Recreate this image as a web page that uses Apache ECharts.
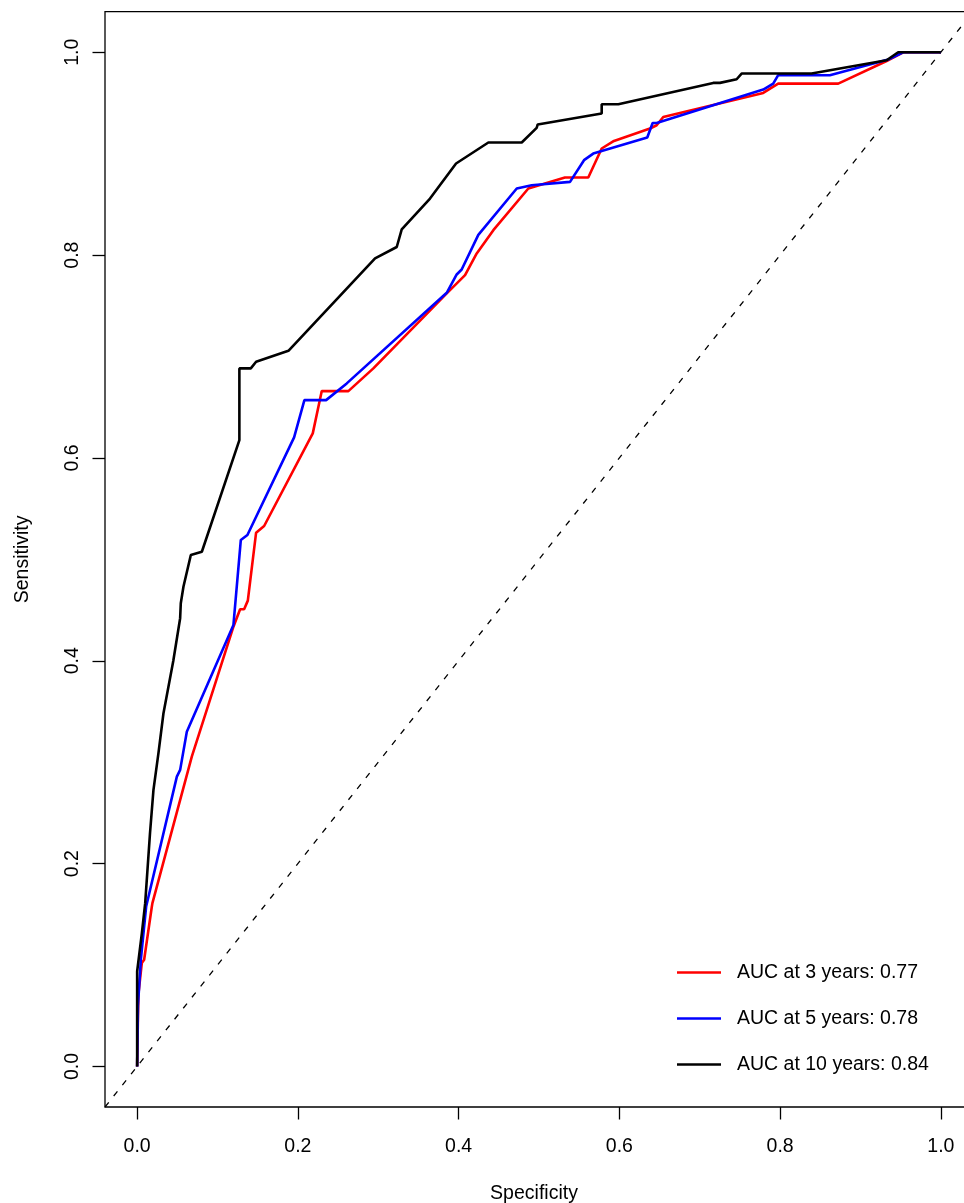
<!DOCTYPE html>
<html>
<head>
<meta charset="utf-8">
<script src="https://cdn.jsdelivr.net/npm/echarts@6/dist/echarts.min.js"></script>
<style>
html,body{margin:0;padding:0;background:#fff;overflow:hidden;width:964px;height:1203px;}
#chart{width:1000px;height:1203px;}
</style>
</head>
<body>
<div id="chart"></div>
<script>
// ---- data ----
const tickValues = [0, 0.2, 0.4, 0.6, 0.8, 1.0];

const names = ['AUC at 3 years: 0.77', 'AUC at 5 years: 0.78', 'AUC at 10 years: 0.84'];

const fpr3 = [0, 0.001, 0.0017, 0.0058, 0.0087, 0.0183, 0.019, 0.068, 0.1198, 0.1281, 0.1331, 0.1377, 0.148, 0.158, 0.2185, 0.2297, 0.2628, 0.2939, 0.3852, 0.408, 0.4225, 0.4432, 0.4867, 0.5323, 0.5613, 0.578, 0.5933, 0.6381, 0.6464, 0.6546, 0.779, 0.7976, 0.8723, 0.9325, 0.9531, 1];
const tpr3 = [0, 0.05, 0.0723, 0.102, 0.1052, 0.1577, 0.161, 0.3055, 0.4336, 0.4508, 0.4508, 0.4593, 0.5263, 0.5329, 0.6242, 0.6659, 0.6659, 0.6883, 0.7622, 0.7802, 0.8016, 0.8246, 0.8657, 0.8765, 0.8765, 0.9051, 0.9126, 0.9248, 0.928, 0.9362, 0.9599, 0.9691, 0.9691, 0.9914, 1, 1];

const fpr5 = [0, 0.001, 0.0046, 0.0112, 0.0494, 0.0535, 0.0618, 0.1198, 0.129, 0.1372, 0.1953, 0.2081, 0.2351, 0.2608, 0.3852, 0.3976, 0.4038, 0.4245, 0.4723, 0.4909, 0.5386, 0.556, 0.5675, 0.6347, 0.6414, 0.6464, 0.779, 0.7914, 0.7976, 0.8619, 0.9345, 0.9531, 1];
const tpr5 = [0, 0.06, 0.1052, 0.1577, 0.2858, 0.2924, 0.3301, 0.4353, 0.5191, 0.524, 0.6203, 0.657, 0.657, 0.6735, 0.7628, 0.7809, 0.7858, 0.8199, 0.8657, 0.8689, 0.8722, 0.8936, 0.9001, 0.9159, 0.9303, 0.9303, 0.9632, 0.9691, 0.9774, 0.9774, 0.9928, 1, 1];

const fpr10 = [0, 0, 0.0058, 0.01, 0.016, 0.0203, 0.0265, 0.0327, 0.045, 0.0535, 0.0543, 0.0576, 0.0668, 0.0805, 0.1272, 0.1272, 0.1414, 0.148, 0.1882, 0.296, 0.323, 0.3292, 0.3644, 0.3968, 0.437, 0.4785, 0.4971, 0.4984, 0.578, 0.578, 0.5987, 0.7168, 0.7251, 0.7459, 0.7521, 0.8392, 0.9325, 0.9469, 1];
const tpr10 = [0, 0.0936, 0.131, 0.161, 0.23, 0.2727, 0.309, 0.348, 0.40, 0.442, 0.4567, 0.473, 0.5043, 0.5075, 0.6176, 0.6883, 0.6883, 0.6948, 0.7056, 0.7967, 0.808, 0.8253, 0.8558, 0.8903, 0.911, 0.911, 0.9255, 0.9288, 0.9396, 0.9487, 0.9487, 0.9698, 0.9698, 0.9734, 0.979, 0.979, 0.9921, 1, 1];

const diagX = [-0.04, 1.04];
const diagY = [-0.04, 1.04];

const colors = ['#FF0000', '#0000FF', '#000000'];

// ---- build ----
const FONT = '"Liberation Sans", Arial, Helvetica, sans-serif';
function pairs(xs, ys) { return xs.map((x, i) => [x, ys[i]]); }

const chart = echarts.init(document.getElementById('chart'), null, { renderer: 'canvas' });

const axisCommon = {
  type: 'value',
  min: -0.04,
  max: 1.04,
  splitLine: { show: false },
  axisLine: { show: false, onZero: false },
  axisTick: { show: true, length: 12.5, lineStyle: { color: '#000', width: 1.3 }, customValues: tickValues },
  nameLocation: 'middle',
  nameTextStyle: { fontFamily: FONT, fontSize: 19.5, color: '#000' }
};

const option = {
  animation: false,
  backgroundColor: '#fff',
  grid: {
    left: 105, top: 11.7, width: 868, height: 1095.3,
    show: true, borderColor: '#000', borderWidth: 1.3, backgroundColor: 'transparent',
    containLabel: false,
    outerBoundsMode: 'none'
  },
  xAxis: Object.assign({}, axisCommon, {
    name: 'Specificity',
    nameGap: 77,
    nameTextStyle: { fontFamily: FONT, fontSize: 19.5, color: '#000', padding: [0, 10, 0, 0] },
    axisLabel: {
      customValues: tickValues, margin: 30,
      formatter: v => v.toFixed(1),
      fontFamily: FONT, fontSize: 19.5, color: '#000'
    }
  }),
  yAxis: Object.assign({}, axisCommon, {
    name: 'Sensitivity',
    nameGap: 72,
    axisLabel: {
      customValues: tickValues, margin: 22, rotate: 90,
      formatter: v => v.toFixed(1),
      fontFamily: FONT, fontSize: 19.5, color: '#000'
    }
  }),
  legend: {
    orient: 'vertical',
    left: 672, top: 957.5,
    itemWidth: 44, itemHeight: 2.6, itemGap: 26,
    icon: 'rect',
    selectedMode: false,
    data: names,
    textStyle: { fontFamily: FONT, fontSize: 19.5, color: '#000', lineHeight: 20, padding: [0, 0, 0, 11] }
  },
  series: [
    {
      name: 'diag', type: 'line', data: pairs(diagX, diagY),
      symbol: 'none', silent: true, clip: true,
      lineStyle: { color: '#000', width: 1.3, type: [6, 8] }
    },
    {
      name: names[0], type: 'line', data: pairs(fpr3, tpr3), symbol: 'none', clip: true,
      lineStyle: { color: colors[0], width: 2.6 }, itemStyle: { color: colors[0] }
    },
    {
      name: names[1], type: 'line', data: pairs(fpr5, tpr5), symbol: 'none', clip: true,
      lineStyle: { color: colors[1], width: 2.6 }, itemStyle: { color: colors[1] }
    },
    {
      name: names[2], type: 'line', data: pairs(fpr10, tpr10), symbol: 'none', clip: true,
      lineStyle: { color: colors[2], width: 2.6 }, itemStyle: { color: colors[2] }
    }
  ]
};
chart.setOption(option);
</script>
</body>
</html>
